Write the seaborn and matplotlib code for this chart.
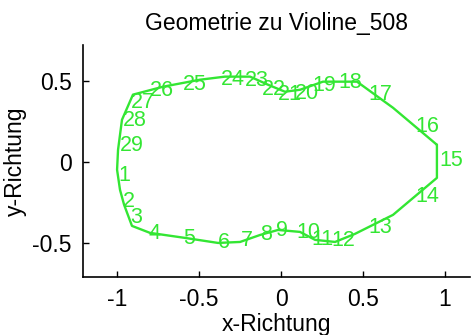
import matplotlib
matplotlib.use("Agg")
import matplotlib.pyplot as plt
import seaborn as sns
import pandas as pd

# Outline of the violin body (closed contour)
outline_x = [0.952, 0.684, 0.464, 0.256, 0.116, 0.024, -0.079, -0.189, -0.342, -0.495,
             -0.720, -0.904, -0.971, -0.995, -1.001, -0.983, -0.958, -0.910, -0.800,
             -0.586, -0.385, -0.250, -0.128, -0.018, 0.116, 0.208, 0.330, 0.452, 0.684,
             0.952, 0.952]
outline_y = [0.105, 0.333, 0.494, 0.494, 0.444, 0.432, 0.475, 0.525, 0.525, 0.506,
             0.463, 0.414, 0.259, 0.074, -0.049, -0.173, -0.265, -0.395, -0.438,
             -0.469, -0.500, -0.494, -0.451, -0.420, -0.432, -0.481, -0.494, -0.444, -0.327,
             -0.099, 0.105]

# Numbered measurement points
point_labels = [str(i) for i in range(1, 30)]
point_x = [-0.995, -0.965, -0.922, -0.812, -0.598, -0.385, -0.244, -0.128, -0.031, 0.092,
           0.183, 0.305, 0.531, 0.818, 0.965, 0.818, 0.531, 0.348, 0.189, 0.085,
           -0.018, -0.116, -0.220, -0.366, -0.598, -0.800, -0.916, -0.965, -0.983]
point_y = [-0.086, -0.247, -0.346, -0.444, -0.475, -0.500, -0.488, -0.451, -0.426, -0.438,
           -0.481, -0.488, -0.407, -0.216, 0.006, 0.216, 0.414, 0.488, 0.469, 0.420,
           0.414, 0.444, 0.500, 0.506, 0.475, 0.438, 0.364, 0.253, 0.099]

x_ticks = [-1, -0.5, 0, 0.5, 1]
x_tick_labels = ["-1", "-0.5", "0", "0.5", "1"]
y_ticks = [-0.5, 0, 0.5]
y_tick_labels = ["-0.5", "0", "0.5"]

title = "Geometrie zu Violine_508"
x_label = "x-Richtung"
y_label = "y-Richtung"

sns.set_style("ticks")
plt.rcParams["font.family"] = ["Liberation Sans", "DejaVu Sans"]
plt.rcParams["text.color"] = "black"
plt.rcParams["axes.labelcolor"] = "black"

GREEN = "#33e633"

fig = plt.figure(figsize=(4.75, 3.35), dpi=100)
ax = fig.add_axes([83 / 475, (335 - 277) / 335, (470 - 83) / 475, (277 - 45) / 335])

df = pd.DataFrame({"x": outline_x, "y": outline_y, "order": range(len(outline_x))})
sns.lineplot(data=df, x="x", y="y", sort=False, estimator=None, color=GREEN,
             linewidth=1.7, ax=ax)

for lab, px, py in zip(point_labels, point_x, point_y):
    ax.text(px, py, lab, color=GREEN, fontsize=15.5, ha="left", va="center")

ax.set_xlim(-1.209, 1.154)
ax.set_ylim(-0.71, 0.72)
ax.set_xticks(x_ticks)
ax.set_xticklabels(x_tick_labels)
ax.set_yticks(y_ticks)
ax.set_yticklabels(y_tick_labels)
ax.tick_params(direction="in", length=4, width=1, labelsize=16.5, pad=8, colors="black")
for side in ["top", "right"]:
    ax.spines[side].set_visible(False)
for side in ["left", "bottom"]:
    ax.spines[side].set_color("black")
    ax.spines[side].set_linewidth(1.2)

ax.set_title(title, fontsize=16.5, pad=11, color="black")
ax.set_xlabel(x_label, fontsize=16.5, labelpad=1, color="black")
ax.set_ylabel(y_label, fontsize=16.5, labelpad=4, color="black")

fig.savefig("out.png", dpi=100)
